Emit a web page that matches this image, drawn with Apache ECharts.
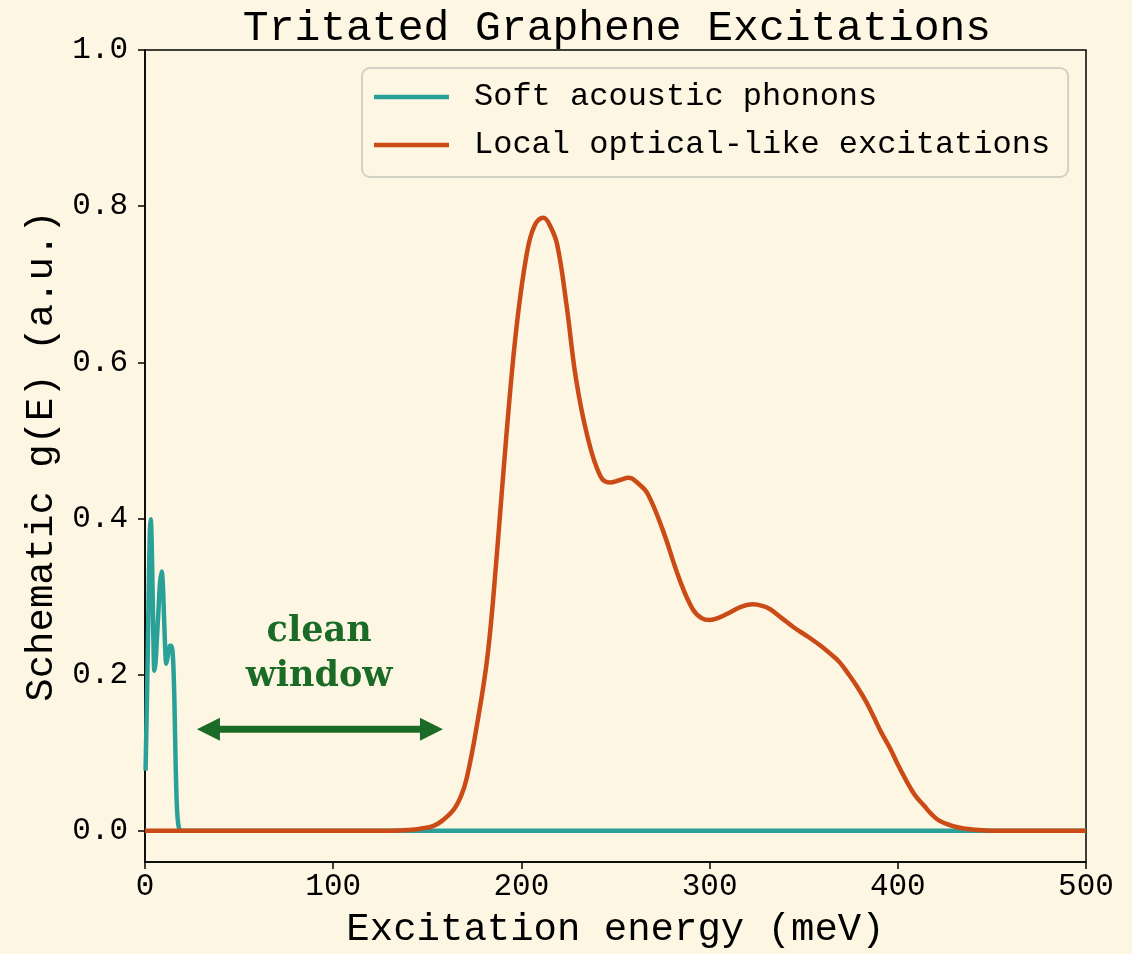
<!DOCTYPE html>
<html>
<head>
<meta charset="utf-8">
<script src="https://cdn.jsdelivr.net/npm/echarts@6/dist/echarts.min.js"></script>
<style>
html, body { margin: 0; padding: 0; background: #FDF6E3; }
#chart { width: 1132px; height: 954px; }
</style>
</head>
<body>
<div id="chart"></div>
<script>
// ---- data ----
const titleText = 'Tritated Graphene Excitations';
const xAxisName = 'Excitation energy (meV)';
const yAxisName = 'Schematic g(E) (a.u.)';
const seriesNames = ['Soft acoustic phonons', 'Local optical-like excitations'];
const xTicks = [0, 100, 200, 300, 400, 500];
const yTicks = [0, 0.2, 0.4, 0.6, 0.8, 1.0];

// Soft acoustic phonons: [energy meV, g(E)]
const acousticE = [0.3, 1.2, 2.0, 2.6, 3.0, 3.5, 4.1, 4.6, 5.0, 5.6, 6.3, 7.1, 8.0, 8.9, 9.5, 10.1, 10.8, 11.3, 12.0, 12.6, 13.3, 13.8, 14.5, 15.0, 15.6, 16.3, 17.0, 17.9, 19.0, 25, 100, 200, 300, 400, 500];
const acousticG = [0.077, 0.19, 0.31, 0.385, 0.399, 0.375, 0.297, 0.228, 0.205, 0.215, 0.245, 0.280, 0.318, 0.332, 0.315, 0.275, 0.230, 0.214, 0.222, 0.231, 0.237, 0.237, 0.232, 0.215, 0.169, 0.084, 0.028, 0.005, 0, 0, 0, 0, 0, 0, 0];

// Local optical-like excitations: [energy meV, g(E)]
const opticalE = [0, 50, 100, 130, 140, 147, 153, 158, 164, 168, 171, 176, 182, 187, 192, 197.5, 203, 207, 211.7, 215, 219, 224, 229, 235, 242, 247, 252, 257, 262, 267, 275, 284, 291, 296, 300, 305, 311, 317, 323, 328, 332, 338, 345, 352, 359, 365, 369, 374, 378, 383, 387, 391, 396, 400, 405, 409, 414, 418, 422, 428, 435, 447, 460, 500];
const opticalG = [0, 0, 0, 0, 0.001, 0.003, 0.006, 0.013, 0.027, 0.045, 0.068, 0.130, 0.224, 0.355, 0.506, 0.647, 0.741, 0.775, 0.785, 0.776, 0.751, 0.673, 0.579, 0.506, 0.454, 0.446, 0.449, 0.452, 0.445, 0.432, 0.386, 0.322, 0.284, 0.272, 0.270, 0.273, 0.280, 0.287, 0.290, 0.288, 0.284, 0.273, 0.260, 0.249, 0.237, 0.225, 0.216, 0.200, 0.186, 0.166, 0.147, 0.127, 0.105, 0.085, 0.062, 0.046, 0.032, 0.021, 0.013, 0.007, 0.003, 0.0005, 0, 0];

// annotation
const windowLabel = 'clean\nwindow';
const arrowFrom = [27.6, 0.13];
const arrowTo = [158.3, 0.13];
const labelAt = [92.5, 0.226];

const mono = 'Liberation Mono';
const BG = '#FDF6E3';
const TEAL = '#2AA198';
const ORANGE = '#CB4B16';
const GREEN = '#1B6B26';

const zip = (xs, ys) => xs.map((x, i) => [x, ys[i]]);

const chart = echarts.init(document.getElementById('chart'), null, { renderer: 'canvas' });

chart.setOption({
  backgroundColor: BG,
  animation: false,
  title: {
    text: titleText,
    left: 612, textAlign: 'center',
    top: 2,
    textStyle: { fontFamily: mono, fontSize: 43, fontWeight: 'normal', color: '#000' }
  },
  legend: {
    orient: 'vertical',
    left: 362, top: 68,
    padding: [13, 18, 16, 12],
    itemGap: 16,
    icon: 'rect',
    itemWidth: 75, itemHeight: 4.5,
    backgroundColor: BG,
    borderColor: '#D3D0C6', borderWidth: 2, borderRadius: 8,
    data: seriesNames,
    textStyle: { fontFamily: mono, fontSize: 32, lineHeight: 32, color: '#000', padding: [0, 0, 0, 20] }
  },
  grid: {
    left: 145, right: 46, top: 50, bottom: 90,
    show: true, borderColor: '#000', borderWidth: 1.5, backgroundColor: 'transparent'
  },
  xAxis: {
    type: 'value', min: 0, max: 500, interval: 100,
    name: xAxisName, nameLocation: 'middle', nameGap: 48,
    nameTextStyle: { fontFamily: mono, fontSize: 39, color: '#000' },
    axisLine: { show: true, onZero: false, lineStyle: { color: '#000', width: 1.5 } },
    axisTick: { show: true, length: 7, lineStyle: { color: '#000', width: 1.5 } },
    axisLabel: { fontFamily: mono, fontSize: 31, color: '#000', margin: 9, formatter: v => String(v) },
    splitLine: { show: false }
  },
  yAxis: {
    type: 'value', min: -0.04, max: 1.0,
    name: yAxisName, nameLocation: 'middle', nameGap: 82, nameRotate: 90,
    nameTextStyle: { fontFamily: mono, fontSize: 39, color: '#000' },
    axisLine: { show: true, onZero: false, lineStyle: { color: '#000', width: 1.5 } },
    axisTick: { show: true, length: 7, customValues: yTicks, lineStyle: { color: '#000', width: 1.5 } },
    axisLabel: { fontFamily: mono, fontSize: 31, color: '#000', margin: 17, customValues: yTicks, formatter: v => v.toFixed(1) },
    splitLine: { show: false }
  },
  series: [
    {
      name: seriesNames[0], type: 'line', data: zip(acousticE, acousticG),
      showSymbol: false, smooth: 0.35,
      lineStyle: { color: TEAL, width: 4.5 }, itemStyle: { color: TEAL }, z: 2
    },
    {
      name: seriesNames[1], type: 'line', data: zip(opticalE, opticalG),
      showSymbol: false, smooth: 0.4,
      lineStyle: { color: ORANGE, width: 4.5 }, itemStyle: { color: ORANGE }, z: 3
    },
    {
      type: 'custom', silent: true, z: 4,
      data: [[arrowFrom[0], arrowFrom[1]]],
      renderItem: function (params, api) {
        const p1 = api.coord(arrowFrom);
        const p2 = api.coord(arrowTo);
        const pl = api.coord(labelAt);
        const hl = 23, hw = 11.5;
        return {
          type: 'group',
          children: [
            { type: 'line', shape: { x1: p1[0] + hl - 2, y1: p1[1], x2: p2[0] - hl + 2, y2: p2[1] },
              style: { stroke: GREEN, lineWidth: 7 } },
            { type: 'polygon', shape: { points: [[p1[0], p1[1]], [p1[0] + hl, p1[1] - hw], [p1[0] + hl, p1[1] + hw]] },
              style: { fill: GREEN } },
            { type: 'polygon', shape: { points: [[p2[0], p2[1]], [p2[0] - hl, p2[1] - hw], [p2[0] - hl, p2[1] + hw]] },
              style: { fill: GREEN } },
            { type: 'text', x: pl[0], y: pl[1],
              style: { text: windowLabel, fill: GREEN, font: 'bold 35px "DejaVu Serif"', align: 'center', verticalAlign: 'middle', lineHeight: 45 } }
          ]
        };
      }
    }
  ]
});
</script>
</body>
</html>
